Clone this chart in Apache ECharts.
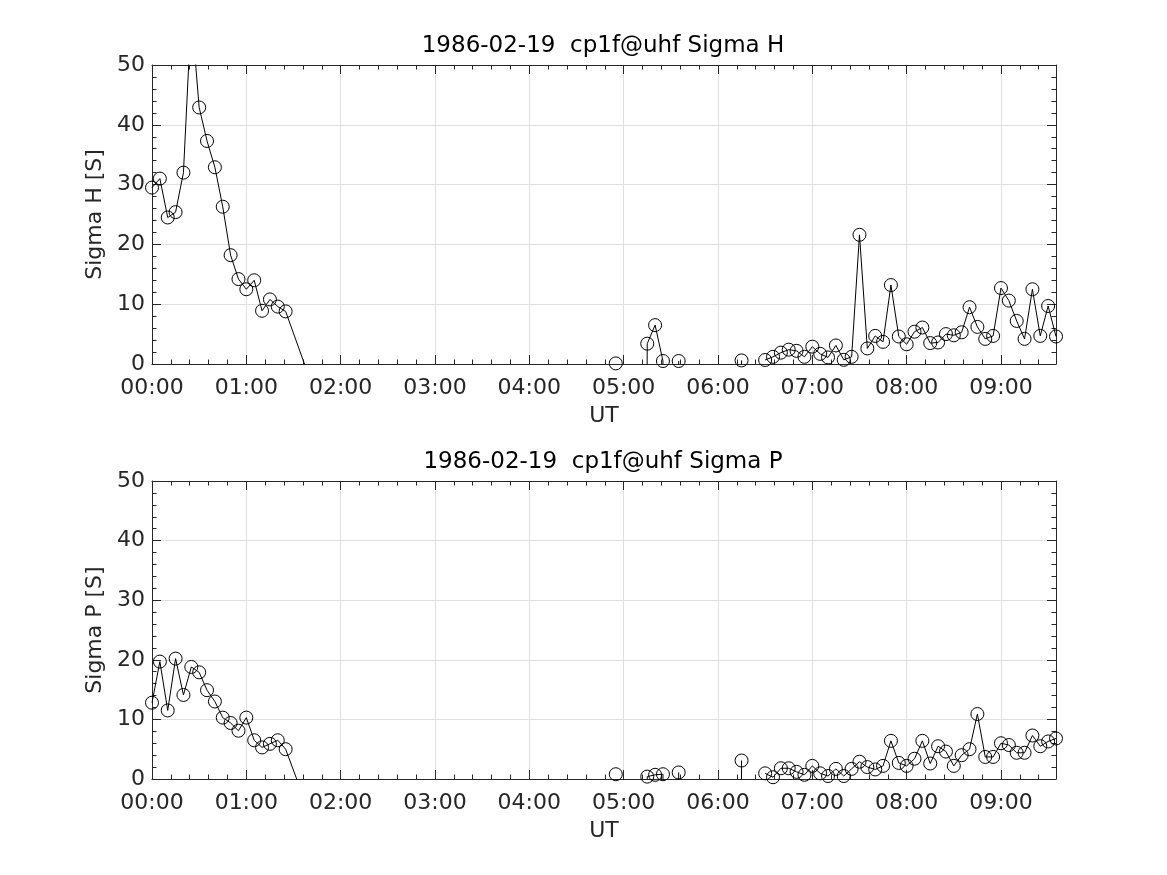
<!DOCTYPE html>
<html>
<head>
<meta charset="utf-8">
<script src="https://cdn.jsdelivr.net/npm/echarts@6/dist/echarts.min.js"></script>
<style>html,body{margin:0;padding:0;background:#fff}#c{width:1167px;height:875px}</style>
</head>
<body>
<div id="c"></div>
<script>
// times in minutes after 00:00 UT; null values mark gaps in the record
const titles = ['1986-02-19  cp1f@uhf Sigma H', '1986-02-19  cp1f@uhf Sigma P'];
const yNames = ['Sigma H [S]', 'Sigma P [S]'];
const xName = 'UT';
const timesH = [0,5,10,15,20,25,30,35,40,45,50,55,60,65,70,75,80,85,100,150,295,300,310,315,320,325,330,335,350,370,375,380,
  390,395,400,405,410,415,420,425,430,435,440,445,450,455,460,465,470,475,480,485,490,495,500,505,510,515,520,525,530,535,540,545,550,555,560,565,570,575];
const sigmaH = [29.5,31.0,24.5,25.4,32.0,59,42.9,37.3,32.9,26.3,18.2,14.2,12.5,14.0,8.9,10.8,9.6,8.8,-2.2,null,0.1,null,-300,3.4,6.5,0.5,-300,0.5,null,-300,0.6,null,
  0.67,1.2,1.9,2.4,2.2,1.2,2.9,1.7,1.1,3.1,0.7,1.2,21.6,2.6,4.7,3.7,13.2,4.6,3.3,5.4,6.1,3.5,3.6,5.0,4.8,5.3,9.5,6.2,4.2,4.7,12.7,10.6,7.2,4.2,12.5,4.7,9.7,4.6];
const timesP = [0,5,10,15,20,25,30,35,40,45,50,55,60,65,70,75,80,85,95,150,295,300,310,315,320,325,330,335,350,370,375,380,
  390,395,400,405,410,415,420,425,430,435,440,445,450,455,460,465,470,475,480,485,490,495,500,505,510,515,520,525,530,535,540,545,550,555,560,565,570,575];
const sigmaP = [12.8,19.7,11.5,20.2,14.1,18.8,17.9,14.9,13.0,10.3,9.4,8.1,10.3,6.5,5.3,5.9,6.5,5.0,-2.1,null,0.8,null,-300,0.4,0.7,0.8,-300,1.1,null,-300,3.1,null,
  0.95,0.3,1.8,1.8,1.2,0.7,2.2,0.95,0.5,1.7,0.5,1.7,2.9,2.0,1.6,2.2,6.4,2.7,2.2,3.4,6.4,2.6,5.5,4.6,2.2,4.0,5.0,10.9,3.7,3.7,6.0,5.7,4.4,4.4,7.3,5.5,6.3,6.8];
const xMin = 0, xMax = 575, xMajor = 60, xMinor = 12;
const yMin = 0, yMax = 50, yMajor = 10;

const FONT = 'DejaVu Sans';
const TXT = '#262626';
const GRIDC = '#dfdfdf';
const grids = [
  {left: 152, top: 65, width: 904, height: 299},
  {left: 152, top: 481, width: 904, height: 298}
];
function fmt(v) {
  if (v % 60 !== 0) return '';
  const h = Math.floor(v / 60), m = v % 60;
  return String(h).padStart(2, '0') + ':' + String(m).padStart(2, '0');
}
const xAxes = [], yAxes = [], series = [], title = [];
const dataSets = [[timesH, sigmaH], [timesP, sigmaP]];
const hiddenLine = {show: false, onZero: false};
const boxLine = {show: true, onZero: false, lineStyle: {color: TXT, width: 1}};
grids.forEach((g, gi) => {
  const base = {type: 'value', gridIndex: gi, min: xMin, max: xMax, splitLine: {show: false}, axisLabel: {show: false}, axisLine: hiddenLine};
  xAxes.push(Object.assign({}, base, {
    position: 'bottom', interval: xMajor,
    axisLine: boxLine,
    axisTick: {show: true, inside: true, length: 9, lineStyle: {color: TXT}},
    axisLabel: {show: true, formatter: fmt, color: TXT, fontSize: 22, fontFamily: FONT, margin: 13, showMaxLabel: false},
    splitLine: {show: true, lineStyle: {color: GRIDC, width: 1}},
    name: xName, nameLocation: 'middle', nameGap: 41,
    nameTextStyle: {color: TXT, fontSize: 22, fontFamily: FONT}
  }));
  xAxes.push(Object.assign({}, base, {position: 'bottom', interval: xMinor,
    axisTick: {show: true, inside: true, length: 4.5, lineStyle: {color: TXT}}}));
  xAxes.push(Object.assign({}, base, {position: 'top', interval: xMajor,
    axisLine: boxLine,
    axisTick: {show: true, inside: true, length: 9, lineStyle: {color: TXT}}}));
  xAxes.push(Object.assign({}, base, {position: 'top', interval: xMinor,
    axisTick: {show: true, inside: true, length: 4.5, lineStyle: {color: TXT}}}));
  yAxes.push({
    type: 'value', gridIndex: gi, position: 'left', min: yMin, max: yMax, interval: yMajor,
    axisLine: boxLine,
    axisTick: {show: true, inside: true, length: 9, lineStyle: {color: TXT}},
    minorTick: {show: true, splitNumber: 5, length: 4.5, lineStyle: {color: TXT}},
    axisLabel: {color: TXT, fontSize: 22, fontFamily: FONT, margin: 7},
    splitLine: {show: true, lineStyle: {color: GRIDC, width: 1}},
    name: yNames[gi], nameLocation: 'middle', nameGap: 40,
    nameTextStyle: {color: TXT, fontSize: 22, fontFamily: FONT}
  });
  yAxes.push({
    type: 'value', gridIndex: gi, position: 'right', min: yMin, max: yMax, interval: yMajor,
    axisLine: boxLine,
    axisTick: {show: true, inside: true, length: 9, lineStyle: {color: TXT}},
    minorTick: {show: true, splitNumber: 5, length: 4.5, lineStyle: {color: TXT}},
    axisLabel: {show: false}, splitLine: {show: false}
  });
  const [ts, vs] = dataSets[gi];
  series.push({
    type: 'line', xAxisIndex: gi * 4, yAxisIndex: gi * 2,
    data: ts.map((t, i) => [t, vs[i]]),
    clip: true, connectNulls: false, showAllSymbol: true,
    symbol: 'circle', symbolSize: 13,
    itemStyle: {color: 'rgba(0,0,0,0)', borderColor: '#000', borderWidth: 1},
    lineStyle: {color: '#000', width: 1},
    emphasis: {disabled: true}, animation: false
  });
  title.push({
    text: titles[gi], left: 598, top: g.top - 35, textAlign: 'center',
    textStyle: {color: '#000', fontSize: 23, fontWeight: 'normal', fontFamily: FONT}
  });
});
const chart = echarts.init(document.getElementById('c'), null, {renderer: 'canvas'});
chart.setOption({
  animation: false, backgroundColor: '#fff',
  title: title, grid: grids, xAxis: xAxes, yAxis: yAxes, series: series
});
</script>
</body>
</html>
